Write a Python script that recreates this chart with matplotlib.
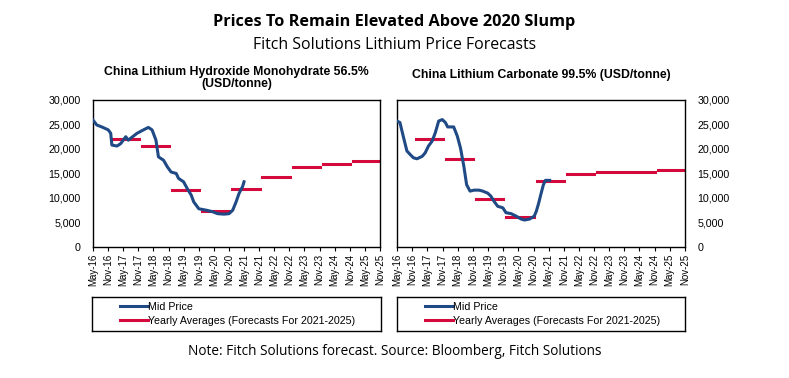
import pandas as pd
import matplotlib
matplotlib.use("Agg")
import matplotlib.pyplot as plt
from matplotlib.lines import Line2D

# mid price, lithium hydroxide (USD/tonne, thousands)
lioh_dates = ["2016-05-01", "2016-06-15", "2016-08-15", "2016-11-01", "2016-12-01", "2016-12-15",
              "2017-02-15", "2017-04-01", "2017-06-01", "2017-07-01", "2017-08-15", "2017-10-15",
              "2018-01-01", "2018-03-01", "2018-04-15", "2018-06-01", "2018-07-01", "2018-09-01",
              "2018-10-15", "2018-12-01", "2019-02-01", "2019-03-01", "2019-05-01", "2019-06-15",
              "2019-08-01", "2019-09-01", "2019-11-01", "2020-02-01", "2020-04-15", "2020-06-15",
              "2020-09-01", "2020-11-01", "2020-12-15", "2021-01-25", "2021-03-01", "2021-04-15",
              "2021-05-01"]
lioh_price = [25.9, 24.9, 24.5, 23.9, 23.2, 20.8,
              20.6, 21.1, 22.5, 21.8, 22.4, 23.2,
              23.9, 24.4, 23.9, 21.8, 18.4, 17.7,
              16.4, 15.3, 15.0, 14.0, 13.3, 11.9,
              10.6, 9.2, 7.8, 7.5, 7.2, 6.8,
              6.7, 6.8, 7.5, 9.2, 10.9, 12.4,
              13.3]

# mid price, lithium carbonate
li2co3_dates = ["2016-05-01", "2016-06-05", "2016-07-15", "2016-08-28", "2016-10-05", "2016-11-15",
                "2016-12-28", "2017-02-28", "2017-04-05", "2017-05-15", "2017-06-28", "2017-08-05",
                "2017-09-15", "2017-10-28", "2017-12-05", "2018-01-01", "2018-03-15", "2018-04-28",
                "2018-06-05", "2018-07-15", "2018-08-18", "2018-09-28", "2018-11-15", "2019-01-15",
                "2019-02-28", "2019-04-28", "2019-06-05", "2019-07-15", "2019-08-28", "2019-10-28",
                "2019-12-05", "2020-02-05", "2020-04-05", "2020-06-05", "2020-07-15", "2020-09-15",
                "2020-11-10", "2020-12-05", "2021-01-03", "2021-01-28", "2021-02-28", "2021-03-25",
                "2021-05-15"]
li2co3_price = [25.7, 25.4, 22.6, 19.6, 18.9, 18.2,
                18.0, 18.5, 19.2, 20.6, 21.6, 23.3,
                25.7, 26.0, 25.4, 24.5, 24.5, 22.6,
                20.2, 16.5, 12.7, 11.4, 11.6, 11.6,
                11.4, 11.0, 10.4, 9.3, 8.3, 8.0,
                7.0, 6.8, 6.3, 5.7, 5.5, 5.7,
                6.3, 7.3, 9.0, 10.7, 12.7, 13.6,
                13.6]

# yearly averages (2021-2025 are forecasts)
years = [2017, 2018, 2019, 2020, 2021, 2022, 2023, 2024, 2025]
lioh_avg = [22.0, 20.6, 11.7, 7.3, 11.9, 14.3, 16.3, 17.0, 17.5]
li2co3_avg = [22.0, 17.9, 9.8, 6.1, 13.4, 14.9, 15.3, 15.3, 15.7]

tick_dates = pd.date_range("2016-05-01", "2025-11-01", freq="6MS")

blue = "#1f4a85"
red = "#d4093c"
chart_font = "Liberation Sans"

fig = plt.figure(figsize=(7.89, 3.78), dpi=100)
fig.patch.set_facecolor("white")

fig.text(0.5, 0.942, "Prices To Remain Elevated Above 2020 Slump", ha="center", va="center",
         fontsize=11.7, fontweight="bold", family="Open Sans")
fig.text(0.5, 0.881, "Fitch Solutions Lithium Price Forecasts", ha="center", va="center",
         fontsize=11.4, family="Open Sans")
fig.text(0.5, 0.069, "Note: Fitch Solutions forecast. Source: Bloomberg, Fitch Solutions",
         ha="center", va="center", fontsize=9.8, family="Open Sans")


def draw(ax, dates, price, avgs, title, right):
    d = pd.to_datetime(dates)
    ax.plot(d, [p * 1000 for p in price], color=blue, lw=2.2, zorder=3)
    for y, v in zip(years, avgs):
        start = pd.Timestamp(f"{y - 1}-12-10")
        end = pd.Timestamp(f"{y}-11-05")
        ax.plot([start, end], [v * 1000, v * 1000], color=red, lw=2.2, zorder=2)
    ax.set_xlim(tick_dates[0], tick_dates[-1])
    ax.set_ylim(0, 30000)
    ax.set_yticks(range(0, 30001, 5000))
    ax.set_yticklabels([f"{v:,}" for v in range(0, 30001, 5000)], fontsize=7.7, family=chart_font)
    ax.set_xticks(tick_dates)
    ax.set_xticklabels([t.strftime("%b-%y") for t in tick_dates], rotation=90,
                       fontsize=7, family=chart_font)
    ax.tick_params(axis="y", length=0, pad=9)
    ax.tick_params(axis="x", length=3, width=0.8, direction="out", pad=2)
    if right:
        ax.yaxis.tick_right()
    for s in ax.spines.values():
        s.set_linewidth(1.0)
        s.set_color("black")
    ax.set_title(title, fontsize=8.8, fontweight="bold", family=chart_font,
                 pad=9 if "\n" in title else 16, linespacing=1.05)


ax1 = fig.add_axes([0.1179, 0.3466, 0.3638, 0.3889])
draw(ax1, lioh_dates, lioh_price, lioh_avg,
     "China Lithium Hydroxide Monohydrate 56.5%\n(USD/tonne)", False)
ax2 = fig.add_axes([0.5032, 0.3466, 0.3650, 0.3889])
draw(ax2, li2co3_dates, li2co3_price, li2co3_avg,
     "China Lithium Carbonate 99.5% (USD/tonne)", True)

handles = [Line2D([], [], color=blue, lw=2.2), Line2D([], [], color=red, lw=2.2)]
labels = ["Mid Price", "Yearly Averages (Forecasts For 2021-2025)"]
for left, w in [(0.1166, 0.3663), (0.5032, 0.3650)]:
    lax = fig.add_axes([left, 0.1243, w, 0.0899])
    lax.set_xticks([])
    lax.set_yticks([])
    for s in lax.spines.values():
        s.set_linewidth(1.0)
    lax.legend(handles, labels, loc="center left", bbox_to_anchor=(0.08, 0.5),
               frameon=False, handlelength=2.6, handletextpad=0.0,
               labelspacing=0.35, borderpad=0, prop={"family": chart_font, "size": 7.7})

fig.savefig("out.png", dpi=100)
